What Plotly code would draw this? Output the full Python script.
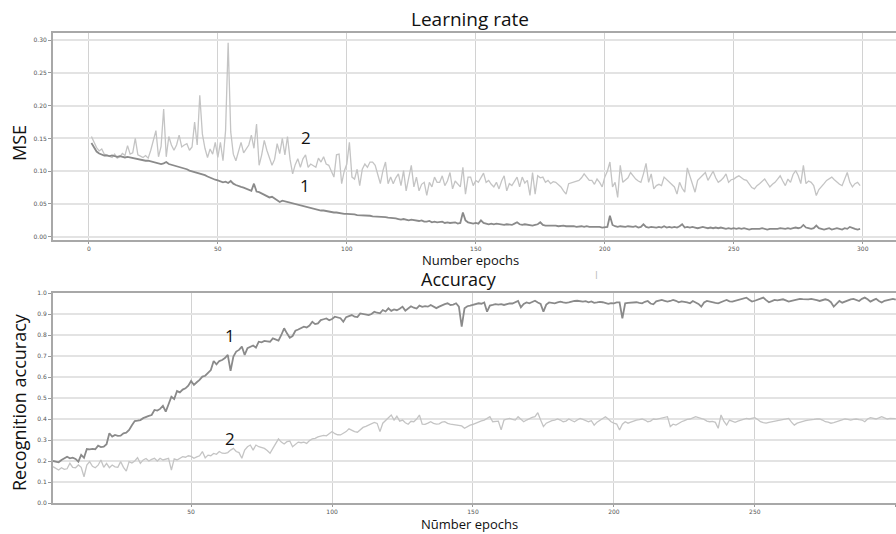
import plotly.graph_objects as go

# ---------------- data ----------------
epochs_mse = list(range(1, 300))
mse_1 = [
    0.143, 0.136, 0.130, 0.127, 0.125, 0.124, 0.124, 0.123, 0.124, 0.123,
    0.122, 0.123, 0.122, 0.121, 0.122, 0.121, 0.120, 0.120, 0.119, 0.118,
    0.117, 0.116, 0.116, 0.115, 0.114, 0.114, 0.113, 0.111, 0.112, 0.114,
    0.111, 0.110, 0.109, 0.108, 0.106, 0.105, 0.104, 0.103, 0.101, 0.100,
    0.099, 0.098, 0.097, 0.095, 0.094, 0.092, 0.090, 0.088, 0.087, 0.086,
    0.085, 0.083, 0.084, 0.082, 0.085, 0.081, 0.079, 0.077, 0.076, 0.075,
    0.073, 0.071, 0.070, 0.081, 0.069, 0.068, 0.066, 0.065, 0.062, 0.060,
    0.061, 0.058, 0.056, 0.053, 0.055, 0.054, 0.052, 0.051, 0.050, 0.050,
    0.048, 0.047, 0.046, 0.045, 0.044, 0.043, 0.042, 0.042, 0.041, 0.040,
    0.040, 0.039, 0.039, 0.038, 0.037, 0.037, 0.036, 0.036, 0.035, 0.035,
    0.035, 0.034, 0.034, 0.033, 0.033, 0.033, 0.032, 0.033, 0.032, 0.031,
    0.031, 0.031, 0.030, 0.031, 0.030, 0.029, 0.029, 0.028, 0.028, 0.027,
    0.026, 0.027, 0.026, 0.025, 0.026, 0.025, 0.024, 0.024, 0.025, 0.023,
    0.023, 0.024, 0.022, 0.023, 0.022, 0.022, 0.023, 0.021, 0.022, 0.021,
    0.021, 0.022, 0.020, 0.021, 0.037, 0.025, 0.022, 0.021, 0.020, 0.021,
    0.020, 0.025, 0.021, 0.020, 0.019, 0.020, 0.019, 0.020, 0.019, 0.019,
    0.018, 0.019, 0.019, 0.018, 0.020, 0.022, 0.019, 0.018, 0.019, 0.018,
    0.018, 0.017, 0.018, 0.019, 0.022, 0.018, 0.017, 0.017, 0.018, 0.017,
    0.017, 0.016, 0.017, 0.017, 0.016, 0.016, 0.017, 0.016, 0.015, 0.016,
    0.016, 0.015, 0.016, 0.015, 0.015, 0.016, 0.015, 0.015, 0.014, 0.015,
    0.015, 0.032, 0.018, 0.016, 0.015, 0.016, 0.015, 0.015, 0.016, 0.015,
    0.015, 0.016, 0.014, 0.015, 0.019, 0.015, 0.014, 0.015, 0.014, 0.014,
    0.015, 0.014, 0.016, 0.014, 0.015, 0.014, 0.015, 0.014, 0.016, 0.019,
    0.014, 0.015, 0.014, 0.015, 0.014, 0.013, 0.014, 0.015, 0.014, 0.013,
    0.014, 0.013, 0.014, 0.013, 0.014, 0.013, 0.012, 0.013, 0.012, 0.013,
    0.012, 0.013, 0.012, 0.013, 0.012, 0.011, 0.012, 0.012, 0.011, 0.012,
    0.013, 0.012, 0.011, 0.012, 0.012, 0.011, 0.012, 0.013, 0.012, 0.012,
    0.013, 0.012, 0.013, 0.014, 0.013, 0.014, 0.018, 0.014, 0.013, 0.012,
    0.013, 0.017, 0.013, 0.012, 0.011, 0.012, 0.013, 0.011, 0.012, 0.013,
    0.012, 0.011, 0.013, 0.012, 0.015, 0.013, 0.012, 0.011, 0.012,
]
mse_2 = [
    0.153, 0.145, 0.136, 0.131, 0.134, 0.126, 0.124, 0.123, 0.121, 0.126,
    0.120, 0.122, 0.127, 0.124, 0.139, 0.126, 0.128, 0.150, 0.125, 0.123,
    0.121, 0.124, 0.120, 0.132, 0.145, 0.162, 0.122, 0.138, 0.195, 0.122,
    0.153, 0.140, 0.132, 0.140, 0.155, 0.137, 0.140, 0.142, 0.132, 0.137,
    0.175, 0.140, 0.216, 0.157, 0.135, 0.121, 0.134, 0.126, 0.144, 0.121,
    0.144, 0.116, 0.162, 0.296, 0.160, 0.126, 0.116, 0.130, 0.144, 0.128,
    0.135, 0.140, 0.155, 0.135, 0.172, 0.109, 0.125, 0.147, 0.132, 0.120,
    0.109, 0.118, 0.142, 0.127, 0.150, 0.125, 0.153, 0.118, 0.096, 0.110,
    0.119, 0.106, 0.119, 0.125, 0.106, 0.111, 0.108, 0.106, 0.120, 0.114,
    0.122, 0.111, 0.109, 0.100, 0.091, 0.125, 0.126, 0.081, 0.100, 0.111,
    0.144, 0.091, 0.088, 0.103, 0.078, 0.103, 0.111, 0.106, 0.114, 0.114,
    0.109, 0.095, 0.081, 0.101, 0.114, 0.081, 0.091, 0.081, 0.090, 0.096,
    0.078, 0.101, 0.070, 0.090, 0.109, 0.076, 0.091, 0.070, 0.080, 0.083,
    0.063, 0.083, 0.076, 0.091, 0.083, 0.083, 0.093, 0.078, 0.085, 0.098,
    0.073, 0.085, 0.081, 0.076, 0.106, 0.065, 0.091, 0.091, 0.078, 0.086,
    0.083, 0.091, 0.097, 0.083, 0.086, 0.080, 0.076, 0.083, 0.073, 0.085,
    0.093, 0.070, 0.081, 0.078, 0.084, 0.091, 0.076, 0.091, 0.082, 0.086,
    0.063, 0.098, 0.065, 0.093, 0.090, 0.091, 0.083, 0.086, 0.081, 0.084,
    0.083, 0.079, 0.076, 0.070, 0.065, 0.081, 0.082, 0.083, 0.085, 0.086,
    0.090, 0.096, 0.091, 0.086, 0.086, 0.080, 0.088, 0.083, 0.076, 0.091,
    0.100, 0.114, 0.076, 0.083, 0.060, 0.109, 0.083, 0.086, 0.090, 0.098,
    0.092, 0.088, 0.085, 0.083, 0.096, 0.112, 0.083, 0.096, 0.073, 0.078,
    0.080, 0.078, 0.091, 0.087, 0.083, 0.080, 0.076, 0.065, 0.083, 0.074,
    0.068, 0.105, 0.093, 0.080, 0.068, 0.086, 0.090, 0.094, 0.098, 0.086,
    0.092, 0.100, 0.090, 0.083, 0.086, 0.090, 0.096, 0.083, 0.087, 0.088,
    0.091, 0.093, 0.090, 0.087, 0.086, 0.080, 0.075, 0.073, 0.078, 0.081,
    0.084, 0.088, 0.082, 0.076, 0.080, 0.083, 0.088, 0.093, 0.085, 0.078,
    0.088, 0.083, 0.095, 0.101, 0.093, 0.081, 0.109, 0.081, 0.085, 0.083,
    0.078, 0.063, 0.072, 0.076, 0.081, 0.086, 0.089, 0.091, 0.087, 0.083,
    0.080, 0.078, 0.088, 0.098, 0.083, 0.076, 0.081, 0.083, 0.078,
]

epochs_acc = list(range(1, 301))
acc_1 = [
    0.200, 0.197, 0.194, 0.205, 0.213, 0.220, 0.213, 0.216, 0.210, 0.197,
    0.229, 0.215, 0.257, 0.255, 0.258, 0.256, 0.273, 0.266, 0.268, 0.280,
    0.332, 0.316, 0.324, 0.320, 0.321, 0.332, 0.335, 0.348, 0.370, 0.390,
    0.392, 0.395, 0.404, 0.411, 0.415, 0.419, 0.443, 0.440, 0.448, 0.463,
    0.435, 0.470, 0.506, 0.495, 0.533, 0.527, 0.540, 0.546, 0.559, 0.581,
    0.562, 0.575, 0.586, 0.602, 0.606, 0.620, 0.633, 0.676, 0.660, 0.676,
    0.681, 0.690, 0.705, 0.629, 0.697, 0.721, 0.729, 0.745, 0.705, 0.737,
    0.745, 0.750, 0.740, 0.768, 0.765, 0.772, 0.770, 0.768, 0.784, 0.779,
    0.773, 0.800, 0.832, 0.808, 0.787, 0.795, 0.820, 0.826, 0.832, 0.840,
    0.836, 0.845, 0.863, 0.852, 0.855, 0.871, 0.875, 0.879, 0.870, 0.876,
    0.887, 0.884, 0.880, 0.863, 0.885, 0.890, 0.895, 0.887, 0.885, 0.903,
    0.900, 0.895, 0.895, 0.900, 0.911, 0.906, 0.903, 0.919, 0.912, 0.927,
    0.915, 0.922, 0.918, 0.925, 0.935, 0.916, 0.925, 0.937, 0.930, 0.926,
    0.940, 0.934, 0.937, 0.935, 0.943, 0.935, 0.928, 0.935, 0.943, 0.947,
    0.951, 0.943, 0.945, 0.951, 0.935, 0.840, 0.927, 0.937, 0.940, 0.943,
    0.947, 0.951, 0.949, 0.955, 0.911, 0.940, 0.943, 0.947, 0.945, 0.947,
    0.943, 0.948, 0.951, 0.950, 0.955, 0.962, 0.932, 0.948, 0.955, 0.951,
    0.957, 0.963, 0.955, 0.948, 0.911, 0.945, 0.955, 0.952, 0.951, 0.955,
    0.959, 0.955, 0.953, 0.955, 0.960, 0.962, 0.963, 0.960, 0.959, 0.961,
    0.956, 0.960, 0.953, 0.955, 0.958, 0.956, 0.952, 0.948, 0.952, 0.951,
    0.955, 0.955, 0.879, 0.951, 0.953, 0.955, 0.957, 0.956, 0.953, 0.951,
    0.958, 0.962, 0.950, 0.946, 0.960, 0.962, 0.967, 0.963, 0.959, 0.962,
    0.967, 0.963, 0.956, 0.960, 0.959, 0.955, 0.951, 0.962, 0.955, 0.948,
    0.935, 0.955, 0.962, 0.958, 0.956, 0.953, 0.951, 0.958, 0.962, 0.967,
    0.960, 0.959, 0.963, 0.967, 0.972, 0.975, 0.978, 0.968, 0.959, 0.963,
    0.967, 0.972, 0.978, 0.966, 0.956, 0.961, 0.967, 0.965, 0.968, 0.970,
    0.965, 0.959, 0.963, 0.967, 0.970, 0.972, 0.971, 0.969, 0.970, 0.972,
    0.970, 0.966, 0.962, 0.965, 0.970, 0.966, 0.956, 0.935, 0.950, 0.962,
    0.954, 0.960, 0.967, 0.970, 0.972, 0.966, 0.962, 0.972, 0.978, 0.970,
    0.959, 0.966, 0.972, 0.962, 0.955, 0.963, 0.967, 0.970, 0.972, 0.968,
]
acc_2 = [
    0.173, 0.165, 0.157, 0.168, 0.160, 0.163, 0.189, 0.170, 0.168, 0.181,
    0.170, 0.125, 0.181, 0.197, 0.175, 0.168, 0.180, 0.205, 0.170, 0.189,
    0.168, 0.181, 0.172, 0.170, 0.197, 0.170, 0.152, 0.197, 0.190, 0.200,
    0.216, 0.189, 0.205, 0.212, 0.200, 0.208, 0.213, 0.200, 0.213, 0.205,
    0.210, 0.213, 0.157, 0.210, 0.205, 0.213, 0.221, 0.218, 0.225, 0.222,
    0.213, 0.220, 0.225, 0.245, 0.215, 0.228, 0.225, 0.236, 0.232, 0.245,
    0.237, 0.236, 0.240, 0.252, 0.260, 0.245, 0.240, 0.213, 0.252, 0.268,
    0.276, 0.252, 0.276, 0.268, 0.265, 0.260, 0.250, 0.237, 0.260, 0.280,
    0.305, 0.290, 0.281, 0.292, 0.295, 0.268, 0.281, 0.290, 0.287, 0.290,
    0.284, 0.297, 0.305, 0.308, 0.315, 0.320, 0.322, 0.320, 0.332, 0.340,
    0.330, 0.325, 0.324, 0.332, 0.340, 0.353, 0.345, 0.340, 0.337, 0.350,
    0.360, 0.365, 0.371, 0.380, 0.384, 0.379, 0.340, 0.380, 0.393, 0.404,
    0.419, 0.395, 0.413, 0.390, 0.395, 0.382, 0.375, 0.389, 0.387, 0.400,
    0.419, 0.375, 0.374, 0.380, 0.387, 0.379, 0.376, 0.377, 0.385, 0.387,
    0.379, 0.376, 0.374, 0.372, 0.370, 0.367, 0.356, 0.365, 0.371, 0.374,
    0.380, 0.387, 0.391, 0.395, 0.403, 0.411, 0.387, 0.390, 0.390, 0.348,
    0.395, 0.400, 0.403, 0.398, 0.395, 0.411, 0.400, 0.387, 0.395, 0.403,
    0.408, 0.411, 0.430, 0.395, 0.364, 0.380, 0.387, 0.392, 0.395, 0.400,
    0.395, 0.387, 0.390, 0.400, 0.393, 0.387, 0.395, 0.403, 0.398, 0.392,
    0.387, 0.392, 0.371, 0.385, 0.395, 0.403, 0.411, 0.400, 0.387, 0.380,
    0.376, 0.348, 0.375, 0.387, 0.380, 0.385, 0.392, 0.395, 0.397, 0.400,
    0.395, 0.387, 0.390, 0.400, 0.398, 0.401, 0.403, 0.408, 0.411, 0.364,
    0.375, 0.371, 0.380, 0.387, 0.392, 0.398, 0.400, 0.405, 0.411, 0.407,
    0.403, 0.398, 0.390, 0.387, 0.389, 0.384, 0.356, 0.419, 0.390, 0.371,
    0.395, 0.390, 0.384, 0.390, 0.395, 0.400, 0.403, 0.400, 0.403, 0.406,
    0.398, 0.387, 0.383, 0.380, 0.384, 0.387, 0.390, 0.393, 0.395, 0.398,
    0.400, 0.403, 0.385, 0.371, 0.380, 0.385, 0.390, 0.392, 0.395, 0.395,
    0.398, 0.400, 0.401, 0.395, 0.387, 0.385, 0.380, 0.383, 0.387, 0.390,
    0.395, 0.400, 0.398, 0.395, 0.398, 0.400, 0.397, 0.395, 0.387, 0.400,
    0.406, 0.402, 0.400, 0.405, 0.411, 0.405, 0.400, 0.403, 0.404, 0.402,
]

mse_ticks = [0.00, 0.05, 0.10, 0.15, 0.20, 0.25, 0.30]
mse_xticks = [0, 50, 100, 150, 200, 250, 300]
acc_ticks = [0.0, 0.1, 0.2, 0.3, 0.4, 0.5, 0.6, 0.7, 0.8, 0.9, 1.0]
acc_xticks = [50, 100, 150, 200, 250, 300]

# ---------------- layout helpers ----------------
W, H = 896, 534
def fx(p):
    return p / W
def fy(p):
    return 1 - p / H

DARK = "#8a8a8a"
LIGHT = "#c4c4c4"
TITLE_FONT = "Open Sans"
TICK_FONT = dict(family="DejaVu Sans", size=6, color="#555555")

fig = go.Figure()
fig.add_trace(go.Scatter(x=epochs_mse, y=mse_2, mode="lines",
                         line=dict(color=LIGHT, width=1.3), xaxis="x", yaxis="y",
                         showlegend=False, hoverinfo="skip"))
fig.add_trace(go.Scatter(x=epochs_mse, y=mse_1, mode="lines",
                         line=dict(color=DARK, width=1.8), xaxis="x", yaxis="y",
                         showlegend=False, hoverinfo="skip"))
fig.add_trace(go.Scatter(x=epochs_acc, y=acc_2, mode="lines",
                         line=dict(color=LIGHT, width=1.3), xaxis="x2", yaxis="y2",
                         showlegend=False, hoverinfo="skip"))
fig.add_trace(go.Scatter(x=epochs_acc, y=acc_1, mode="lines",
                         line=dict(color=DARK, width=1.8), xaxis="x2", yaxis="y2",
                         showlegend=False, hoverinfo="skip"))

common_x = dict(showgrid=True, gridcolor="#d2d2d2", gridwidth=1,
                showline=True, linecolor="#a8a8a8", linewidth=2, mirror=True,
                ticks="outside", ticklen=2, tickcolor="#999999", tickwidth=1,
                tickfont=TICK_FONT, zeroline=False, automargin=False)
common_y = dict(showgrid=True, gridcolor="#e3e3e3", gridwidth=1.6,
                showline=True, linecolor="#a8a8a8", linewidth=2, mirror=True,
                ticks="outside", ticklen=3, tickcolor="#999999", tickwidth=1,
                tickfont=TICK_FONT, zeroline=False, automargin=False)

fig.update_layout(
    width=W, height=H,
    margin=dict(l=0, r=0, t=0, b=0),
    paper_bgcolor="white", plot_bgcolor="white",
    xaxis=dict(domain=[fx(53), 1], anchor="y", range=[-13.9, 312.9],
               tickvals=mse_xticks, ticktext=[str(v) for v in mse_xticks], **common_x),
    yaxis=dict(domain=[fy(240), fy(33)], anchor="x", range=[-0.005, 0.311],
               tickvals=mse_ticks, ticktext=[f"{v:.2f}" for v in mse_ticks], **common_y),
    xaxis2=dict(domain=[fx(53), 1], anchor="y2", range=[1, 300.08],
                tickvals=acc_xticks, ticktext=[str(v) for v in acc_xticks], **common_x),
    yaxis2=dict(domain=[fy(503), fy(293)], anchor="x2", range=[0, 1.0],
                tickvals=acc_ticks, ticktext=[f"{v:.1f}" for v in acc_ticks], **common_y),
)

def txt(text, x, y, size, angle=0, color="#111111", family=TITLE_FONT):
    fig.add_annotation(text=text, x=fx(x), y=fy(y), xref="paper", yref="paper",
                       xanchor="center", yanchor="middle", showarrow=False,
                       textangle=angle, font=dict(family=family, size=size, color=color))

txt("Learning rate", 470, 19, 19)
txt("Number epochs", 470, 260, 13)
txt("MSE", 19, 143, 18, angle=-90)
txt("2", 306, 137, 17)
txt("1", 305, 185, 17)

txt("Accuracy", 459, 279, 18)
txt("Nūmber epochs", 469, 524, 13)
txt("Recognition accuracy", 19, 402, 18, angle=-90)
txt("1", 230, 335, 17)
txt("2", 230, 438, 17)
txt("I", 596, 275, 10, color="#bbbbbb")

fig.write_html(
    "out.html",
    config={"displayModeBar": False},
    post_script="document.body.style.margin='0';document.body.style.overflow='hidden';",
)
